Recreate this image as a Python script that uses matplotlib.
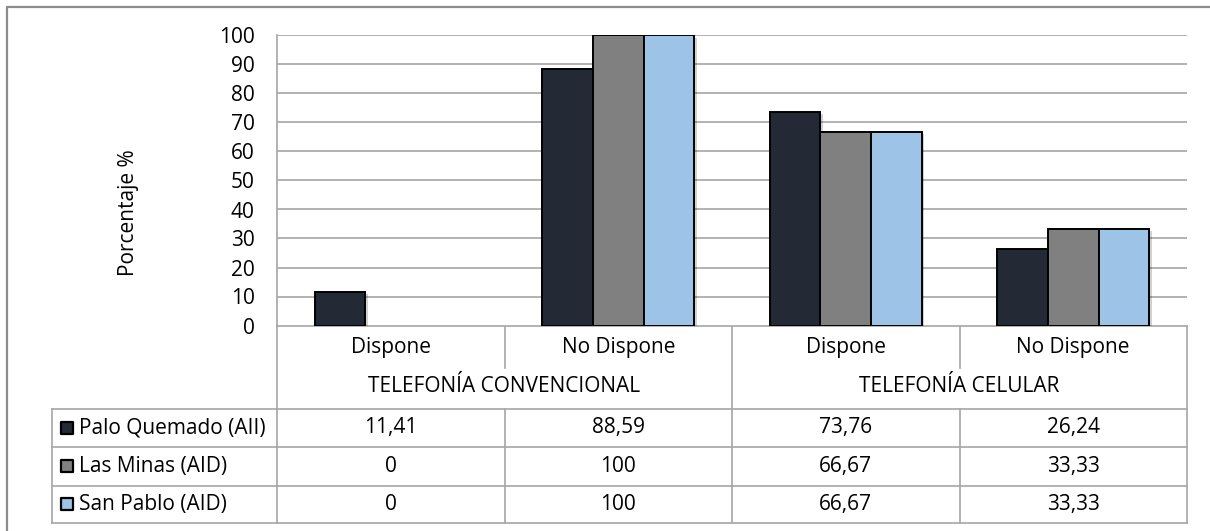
import numpy as np
import matplotlib
matplotlib.use('Agg')
import matplotlib.pyplot as plt
import matplotlib.patheffects as pe

plt.rcParams['font.family'] = ['Open Sans', 'DejaVu Sans']

# datos
categorias = ['Dispone', 'No Dispone', 'Dispone', 'No Dispone']
grupos = ['TELEFONÍA CONVENCIONAL', 'TELEFONÍA CELULAR']
series = ['Palo Quemado (AII)', 'Las Minas (AID)', 'San Pablo (AID)']
palo_quemado = [11.41, 88.59, 73.76, 26.24]
las_minas = [0, 100, 66.67, 33.33]
san_pablo = [0, 100, 66.67, 33.33]
etiquetas_palo = ['11,41', '88,59', '73,76', '26,24']
etiquetas_minas = ['0', '100', '66,67', '33,33']
etiquetas_pablo = ['0', '100', '66,67', '33,33']

colores = ['#232a36', '#808080', '#9dc3e6']
W, H = 1210, 531
fs = 15

# posiciones en pixeles
x0, x1 = 277, 1187
y100, y0 = 35.5, 325.5
fila_cat, fila_grupo = 368, 408.5
filas = [408.5, 447, 485.5, 523]
tabla_izq = 52
gris = '#a6a6a6'

fig = plt.figure(figsize=(W / 100, H / 100), dpi=100)
ax = fig.add_axes([x0 / W, (H - y0) / H, (x1 - x0) / W, (y0 - y100) / H])

n = len(categorias)
x = np.arange(n)
w = 1 / 4.5
valores = [palo_quemado, las_minas, san_pablo]
sombra = [pe.SimplePatchShadow(offset=(2, -1.5), shadow_rgbFace='#000000', alpha=0.18),
          pe.Normal()]
for i, vals in enumerate(valores):
    anchos = [1.4 if v > 0 else 0 for v in vals]
    barras = ax.bar(x + (i - 1) * w, vals, w, color=colores[i], edgecolor='black',
                    linewidth=anchos, zorder=3)
    for b, v in zip(barras, vals):
        if v > 0:
            b.set_path_effects(sombra)

ax.set_xlim(-0.5, n - 0.5)
ax.set_ylim(0, 100)
ax.set_yticks(np.arange(0, 101, 10))
ax.tick_params(axis='y', length=0, labelsize=fs, pad=16, colors='black')
ax.set_xticks([])
ax.grid(axis='y', color=gris, linewidth=1.2, zorder=0)
for s in ['top', 'right', 'bottom']:
    ax.spines[s].set_visible(False)
ax.spines['left'].set_color(gris)
ax.spines['left'].set_linewidth(1.2)
ax.set_ylabel('Porcentaje %', fontsize=fs, labelpad=0)
ax.yaxis.set_label_coords(-(x0 - 139) / (x1 - x0), 0.39)

# tabla de datos
fx = fig.add_axes([0, 0, 1, 1], zorder=-1)
fx.set_xlim(0, W)
fx.set_ylim(H, 0)
fx.axis('off')

ancho = (x1 - x0) / n
bordes = [x0 + k * ancho for k in range(n + 1)]
lw = 1.2
fx.plot([x0, x1], [y0, y0], color=gris, lw=lw)
for k, bx in enumerate(bordes):
    if k % 2 == 0:
        fx.plot([bx, bx], [y0, filas[-1]], color=gris, lw=lw)
    else:
        fx.plot([bx, bx], [y0, fila_cat], color=gris, lw=lw)
        fx.plot([bx, bx], [fila_grupo, filas[-1]], color=gris, lw=lw)
fx.plot([tabla_izq, tabla_izq], [filas[0], filas[-1]], color=gris, lw=lw)
for fy in filas:
    fx.plot([tabla_izq, x1], [fy, fy], color=gris, lw=lw)

for k, c in enumerate(categorias):
    fx.text((bordes[k] + bordes[k + 1]) / 2, 348, c, ha='center', va='center',
            fontsize=fs)
for g, nombre in enumerate(grupos):
    fx.text(bordes[2 * g + 1], 386, nombre, ha='center', va='center', fontsize=fs)

etiquetas = [etiquetas_palo, etiquetas_minas, etiquetas_pablo]
for r in range(3):
    cy = (filas[r] + filas[r + 1]) / 2
    fx.scatter([67], [cy], marker='s', s=85, color=colores[r], edgecolor='black',
               linewidth=1.6)
    fx.text(79, cy, series[r], ha='left', va='center', fontsize=fs)
    for k in range(n):
        fx.text((bordes[k] + bordes[k + 1]) / 2, cy, etiquetas[r][k],
                ha='center', va='center', fontsize=fs)

# marco exterior
fx.plot([7, 7, W], [H, 7, 7], color='#8c8c8c', lw=1.6)

fig.savefig('out.png', dpi=100)
